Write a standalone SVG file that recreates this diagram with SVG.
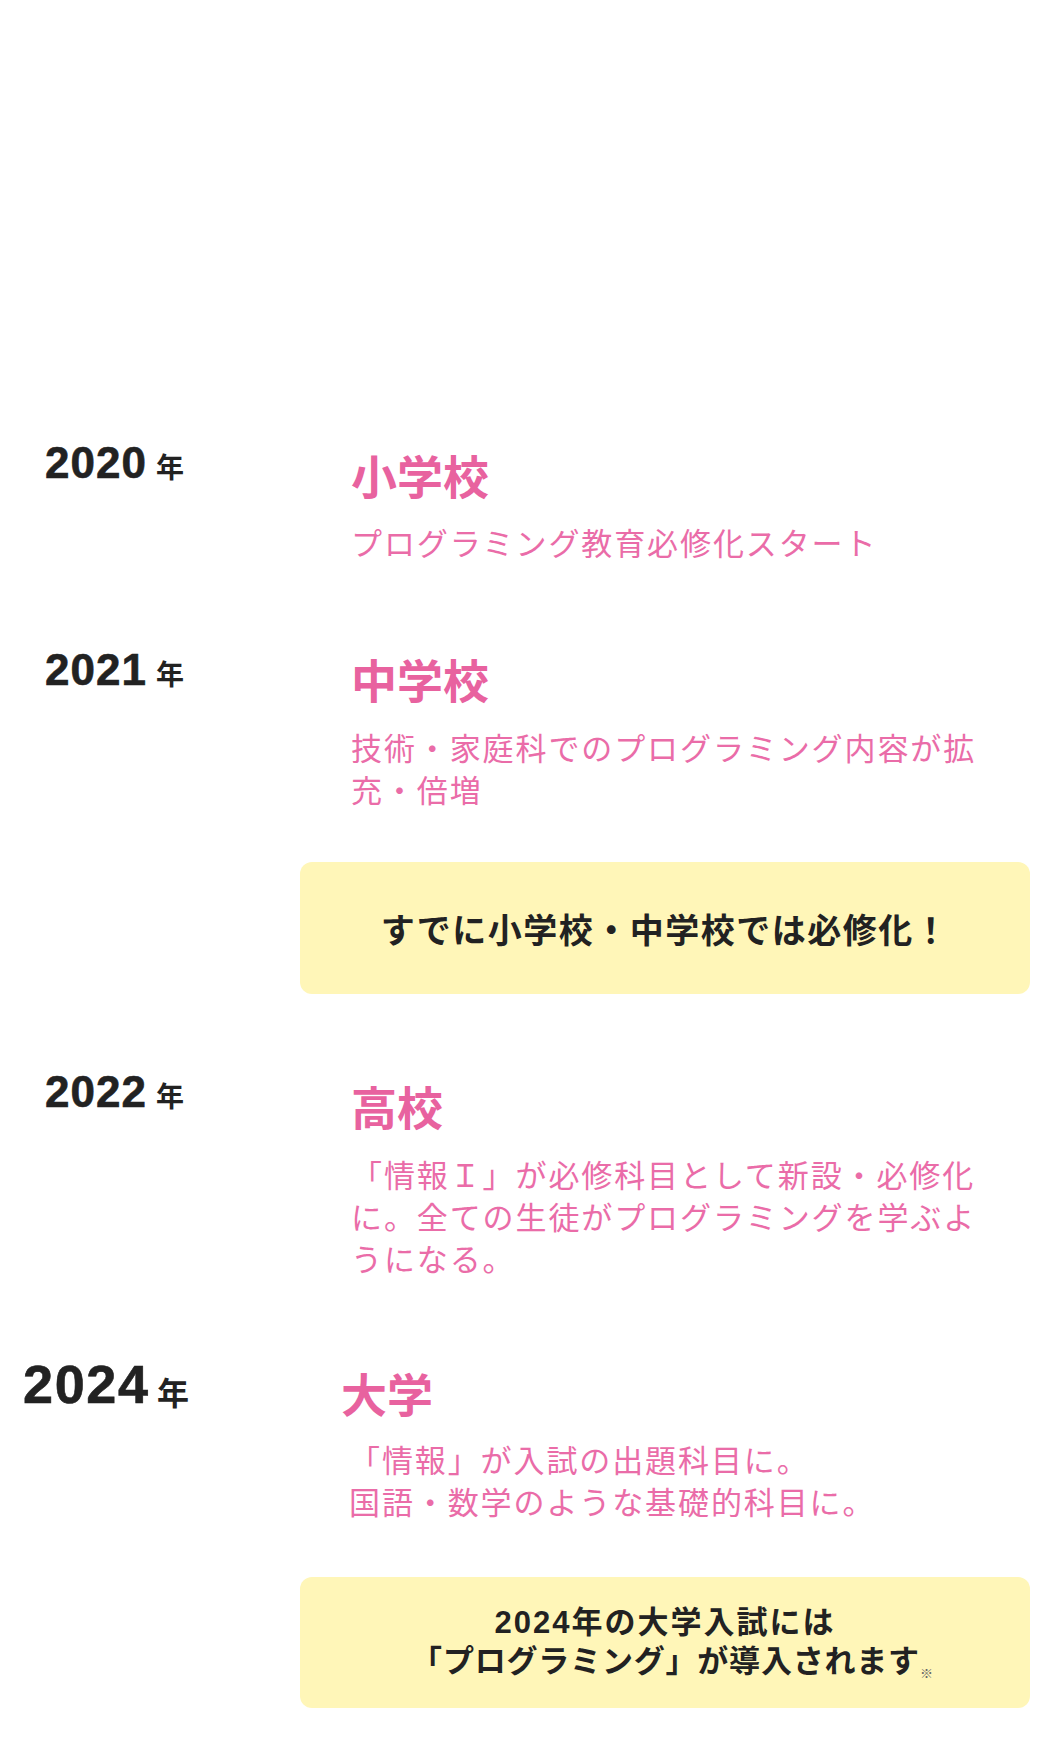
<svg xmlns="http://www.w3.org/2000/svg" width="1044" height="1752" viewBox="0 0 1044 1752">
<style>
.year{font-family:'Liberation Sans','Noto Sans CJK JP',sans-serif;font-weight:bold;font-size:44px;fill:#222;stroke:#222;stroke-width:0.6px;letter-spacing:1px}
.yearbig{font-size:54px;letter-spacing:1.6px}
.nen{font-family:'Noto Sans CJK JP',sans-serif;font-weight:bold;font-size:28px;fill:#222}
.title{font-family:'Noto Sans CJK JP',sans-serif;font-weight:bold;font-size:46px;fill:#e8629f}
.body{font-family:'Noto Sans CJK JP',sans-serif;font-size:31px;fill:#ea6ca8;letter-spacing:1.9px}
.box{fill:#fff6b8}
.boxtext{font-family:'Liberation Sans','Noto Sans CJK JP',sans-serif;font-weight:bold;font-size:32px;fill:#222;text-anchor:middle}
</style>
<rect width="1044" height="1752" fill="#ffffff"/>
<g id="connectors"></g>
<g id="year-2020">
<text class="year" x="45" y="478">2020</text>
<text class="nen" x="156" y="478">年</text>
</g>
<g id="stage-2020">
<text class="title" x="351" y="494">小学校</text>
<text class="body" x="351" y="555">プログラミング教育必修化スタート</text>
</g>
<g id="year-2021">
<text class="year" x="45" y="685">2021</text>
<text class="nen" x="156" y="685">年</text>
</g>
<g id="stage-2021">
<text class="title" x="351" y="698">中学校</text>
<text class="body" x="351" y="760">技術・家庭科でのプログラミング内容が拡</text>
<text class="body" x="351" y="802">充・倍増</text>
</g>
<g id="note-1">
<rect class="box" x="300" y="862" width="730" height="132" rx="12"/>
<text class="boxtext" x="665" y="943" style="font-size:34px;letter-spacing:1.5px">すでに小学校・中学校では必修化！</text>
</g>
<g id="year-2022">
<text class="year" x="45" y="1107">2022</text>
<text class="nen" x="156" y="1107">年</text>
</g>
<g id="stage-2022">
<text class="title" x="351" y="1125">高校</text>
<text class="body" x="351" y="1187">「情報Ｉ」が必修科目として新設・必修化</text>
<text class="body" x="351" y="1229">に。全ての生徒がプログラミングを学ぶよ</text>
<text class="body" x="351" y="1271">うになる。</text>
</g>
<g id="year-2024">
<text class="year yearbig" x="23" y="1403">2024</text>
<text class="nen" x="157" y="1405" style="font-size:32px">年</text>
</g>
<g id="stage-2024">
<text class="title" x="341" y="1412">大学</text>
<text class="body" x="349" y="1472">「情報」が入試の出題科目に。</text>
<text class="body" x="349" y="1514">国語・数学のような基礎的科目に。</text>
</g>
<g id="note-2">
<rect class="box" x="300" y="1577" width="730" height="131" rx="12"/>
<text class="boxtext" x="665" y="1633" style="font-size:31px;letter-spacing:2px">2024年の大学入試には</text>
<text class="boxtext" x="672" y="1672" style="font-size:31px;letter-spacing:0.8px">「プログラミング」が導入されます<tspan dy="6" style="font-size:13px;font-weight:normal;fill:#666;letter-spacing:0">※</tspan></text>
</g>
</svg>
